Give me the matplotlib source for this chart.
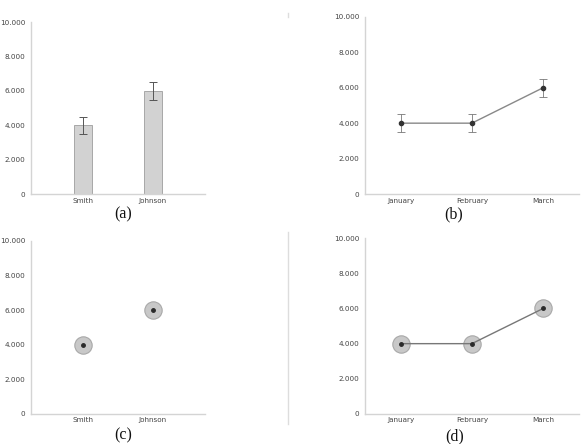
import matplotlib
matplotlib.use("Agg")
import matplotlib.pyplot as plt
from matplotlib.ticker import FuncFormatter
from matplotlib.lines import Line2D

names = ["Smith", "Johnson"]
name_values = [4000, 6000]
name_errors = [500, 500]

months = ["January", "February", "March"]
month_values = [4000, 4000, 6000]
month_errors = [500, 500, 500]

yticks = [0, 2000, 4000, 6000, 8000, 10000]
captions = ["(a)", "(b)", "(c)", "(d)"]

fig = plt.figure(figsize=(5.84, 4.44), dpi=100)

axis_col = "#d4d4d4"
tick_col = "#444444"

def fmt(v, pos):
    if v == 0:
        return "0"
    return f"{int(v):,}".replace(",", ".")

def style(ax, xlim):
    ax.set_ylim(0, 10000)
    ax.set_xlim(*xlim)
    ax.set_yticks(yticks)
    ax.yaxis.set_major_formatter(FuncFormatter(fmt))
    for s in ["top", "right"]:
        ax.spines[s].set_visible(False)
    for s in ["left", "bottom"]:
        ax.spines[s].set_color(axis_col)
        ax.spines[s].set_linewidth(1.0)
    ax.tick_params(axis="y", length=0, labelsize=5.2, colors=tick_col, pad=4)
    ax.tick_params(axis="x", length=0, labelsize=5.2, colors=tick_col, pad=2.5)

ax_a = fig.add_axes([0.053, 0.563, 0.298, 0.387])
ax_b = fig.add_axes([0.625, 0.563, 0.366, 0.399])
ax_c = fig.add_axes([0.053, 0.0676, 0.298, 0.390])
ax_d = fig.add_axes([0.625, 0.0676, 0.366, 0.396])

# (a) bars with error bars
xa = list(range(len(names)))
ax_a.bar(xa, name_values, width=0.26, color="#d2d2d2", edgecolor="#a8a8a8", linewidth=0.7)
ax_a.errorbar(xa, name_values, yerr=name_errors, fmt="none", ecolor="#555555",
              elinewidth=0.7, capsize=3, capthick=0.7)
ax_a.set_xticks(xa)
ax_a.set_xticklabels(names)
style(ax_a, (-0.75, 1.75))

# (b) line with error bars
xb = list(range(len(months)))
ax_b.errorbar(xb, month_values, yerr=month_errors, color="#888888", linewidth=1.0,
              ecolor="#777777", elinewidth=0.6, capsize=3, capthick=0.6,
              marker="o", markersize=3, markerfacecolor="#333333", markeredgecolor="#333333")
ax_b.set_xticks(xb)
ax_b.set_xticklabels(months)
style(ax_b, (-0.5, 2.5))

# (c) circles with dots
ax_c.plot(xa, name_values, linestyle="none", marker="o", markersize=12.5,
          markerfacecolor="#c8c8c8", markeredgecolor="#a8a8a8", markeredgewidth=0.8)
ax_c.plot(xa, name_values, linestyle="none", marker="o", markersize=2.5, color="#2a2a2a")
ax_c.set_xticks(xa)
ax_c.set_xticklabels(names)
style(ax_c, (-0.75, 1.75))

# (d) line with circles
ax_d.plot(xb, month_values, linestyle="none", marker="o", markersize=12.5,
          markerfacecolor="#c8c8c8", markeredgecolor="#a8a8a8", markeredgewidth=0.8, zorder=2)
ax_d.plot(xb, month_values, color="#777777", linewidth=1.0, marker="o", markersize=2.5,
          markerfacecolor="#2a2a2a", markeredgecolor="#2a2a2a", zorder=3)
ax_d.set_xticks(xb)
ax_d.set_xticklabels(months)
style(ax_d, (-0.5, 2.5))

# captions
cap_pos = [(123, 214), (454, 214), (123, 435), (455, 436)]
for c, (px, py) in zip(captions, cap_pos):
    fig.text(px / 584, 1 - py / 444, c, ha="center", va="center",
             family="Liberation Serif", fontsize=11.5, color="#111111")

# separator lines
fig.add_artist(Line2D([288 / 584, 288 / 584], [1 - 232 / 444, 1 - 424 / 444],
                      color="#dddddd", linewidth=1.0))
fig.add_artist(Line2D([288 / 584, 288 / 584], [1 - 13 / 444, 1 - 17 / 444],
                      color="#dddddd", linewidth=1.0))

fig.savefig("out.png", dpi=100)
